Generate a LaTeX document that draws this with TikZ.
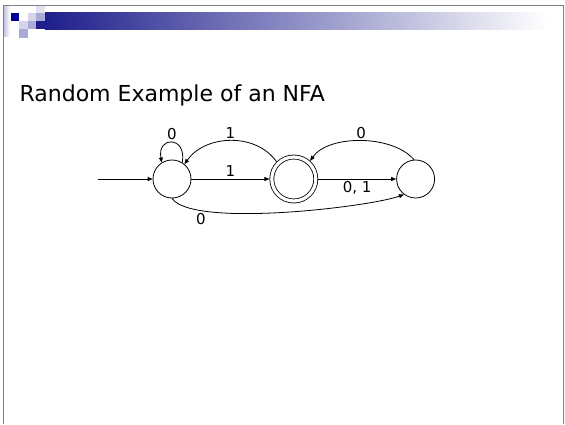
\documentclass[tikz,border=0pt]{standalone}
\usepackage{fontspec}
\setmainfont{DejaVu Sans}
\usetikzlibrary{positioning,arrows.meta}
\definecolor{slidenavy}{RGB}{0,0,153}
\definecolor{barblue}{RGB}{30,30,140}
\definecolor{lilac}{RGB}{170,170,215}
\definecolor{palelilac}{RGB}{212,212,234}
\definecolor{faintlilac}{RGB}{226,226,240}
\definecolor{framegray}{RGB}{128,128,128}
\tikzset{
  state/.style={circle, draw=black, line width=0.8pt, minimum size=38pt, inner sep=0pt},
  accept/.style={state, minimum size=44pt, double, double distance=3.2pt, outer sep=2.4pt},
  trans/.style={line width=0.8pt, -{Triangle[length=5pt,width=4pt]}},
  lbl/.style={font=\fontsize{15}{15}\selectfont, inner sep=2pt}
}

\begin{document}
\begin{tikzpicture}[x=1pt, y=1pt, node distance=78pt]
    \useasboundingbox (0,0) rectangle (565,424);
    % slide frame and header
    \begin{scope}[shift={(0,424)}, yscale=-1]
      \shade[left color=lilac!70, right color=white] (3.8,5.4) rectangle (10,37);
      \shade[left color=barblue, right color=white] (45,12.7) rectangle (548,29.3);
      \fill[slidenavy]  (11,12.7) rectangle (19.3,21);
      \fill[palelilac]  (27.7,12.7) rectangle (36,21);
      \fill[faintlilac] (36,5.4) rectangle (45,12.7);
      \fill[lilac]      (36,12.7) rectangle (45,21);
      \fill[palelilac]  (19.3,21) rectangle (27.7,29.3);
      \fill[lilac]      (27.7,21) rectangle (36,29.3);
      \fill[barblue]    (36,21) rectangle (45,29.3);
      \fill[lilac]      (19.3,29.3) rectangle (27.7,38);
      \draw[framegray, line width=1.2pt] (3.8,424) -- (3.8,5.4) -- (563.6,5.4) -- (563.6,424);
    \end{scope}

    \node[anchor=base west, font=\fontsize{22}{22}\selectfont] (title) at (16,323) {Random Example of an NFA};

    \node[state] (q0) at (172,245) {};
    \node[accept, right=of q0] (q1) {};
    \node[state, right=of q1] (q2) {};
    \coordinate[left=55pt of q0] (init);

    \draw[trans] (init) -- (q0);
    \draw[trans] (q0) -- node[lbl, above] {1} (q1);
    \draw[trans] (q1) -- node[lbl, below] {0, 1} (q2);
    \draw[trans] (q0.58) to[out=80, in=100, looseness=3.4] node[lbl, above] {0} (q0.122);
    \draw[trans] (q1.135) to[out=125, in=55] node[lbl, above] {1} (q0.50);
    \draw[trans] (q2.95) to[out=130, in=55, looseness=0.8] node[lbl, above] {0} (q1.48);
    \draw[trans] (q0.-90) to[out=-55, in=-160, looseness=0.4] node[lbl, below, pos=0.2] {0} (q2.-127);
\end{tikzpicture}
\end{document}
